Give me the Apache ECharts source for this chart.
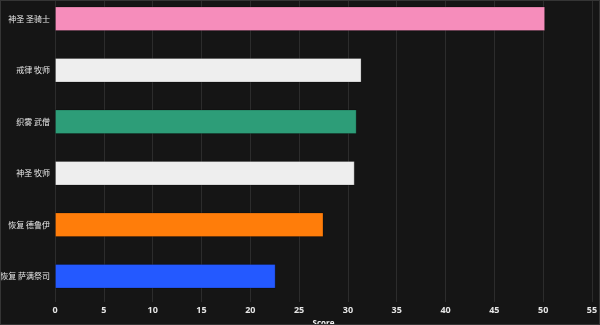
<!DOCTYPE html>
<html>
<head>
<meta charset="utf-8">
<script src="https://cdn.jsdelivr.net/npm/echarts@6/dist/echarts.min.js"></script>
<style>
  html, body { margin: 0; padding: 0; background: #151515; }
  #chart { width: 600px; height: 325px; box-sizing: border-box; border: 1px solid #353535; }
</style>
</head>
<body>
<div id="chart"></div>
<script>
// Healer specs, top to bottom
const specs = ['神圣 圣骑士', '戒律 牧师', '织雾 武僧', '神圣 牧师', '恢复 德鲁伊', '恢复 萨满祭司'];
const scores = [50.2, 31.4, 30.9, 30.7, 27.5, 22.6];
const specColors = ['#f68dbb', '#eeeeee', '#2d9d78', '#eeeeee', '#ff7d0a', '#2459ff'];
const xTicks = [0, 55, 5];

const chart = echarts.init(document.getElementById('chart'), null, { renderer: 'canvas' });

chart.setOption({
  backgroundColor: '#151515',
  animation: false,
  grid: { left: 54, right: 7, top: -8, bottom: 22, containLabel: false, outerBoundsMode: 'none' },
  xAxis: {
    type: 'value',
    min: xTicks[0],
    max: xTicks[1],
    interval: xTicks[2],
    name: 'Score',
    nameLocation: 'middle',
    nameGap: 14,
    nameTextStyle: { color: '#f2f2f2', fontSize: 8, fontWeight: 'bold', fontFamily: 'Open Sans' },
    axisLine: { show: false },
    axisTick: { show: false },
    splitLine: { show: true, lineStyle: { color: '#2c2c2c', width: 1 } },
    axisLabel: { color: '#e6e6e6', fontSize: 9, fontFamily: 'Open Sans', fontWeight: 'bold', margin: 4 }
  },
  yAxis: {
    type: 'category',
    data: specs,
    inverse: true,
    axisLine: { show: false },
    axisTick: { show: false },
    splitLine: { show: false },
    axisLabel: { color: '#e6e6e6', fontSize: 8, fontFamily: 'Noto Sans CJK SC', margin: 5 }
  },
  series: [{
    type: 'bar',
    data: scores.map((v, i) => ({ value: v, itemStyle: { color: specColors[i] } })),
    barWidth: '48%',
    itemStyle: { borderColor: 'rgba(0,0,0,0.25)', borderWidth: 1 }
  }]
});
</script>
</body>
</html>
